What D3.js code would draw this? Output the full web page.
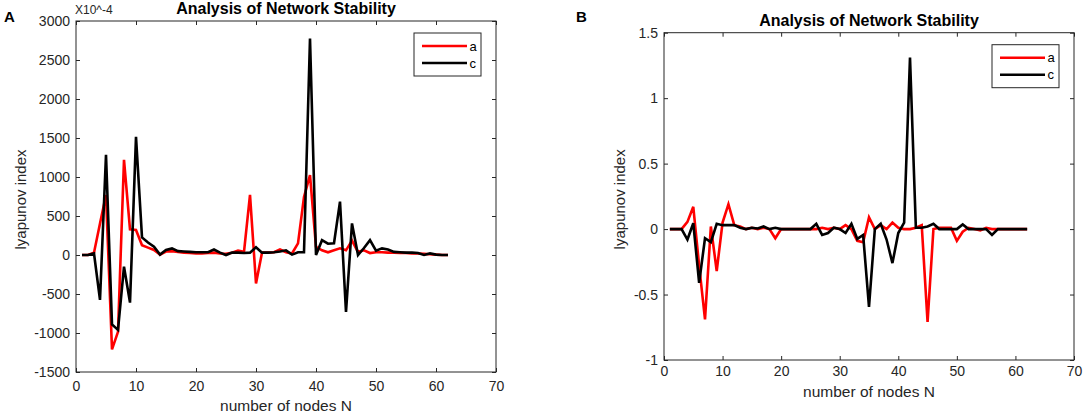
<!DOCTYPE html>
<html>
<head>
<meta charset="utf-8">
<script src="https://cdn.jsdelivr.net/npm/d3@7"></script>
<style>
  body { margin: 0; background: #fff; }
  svg { display: block; font-family: "Liberation Sans", Arial, sans-serif; }
</style>
</head>
<body>
<svg id="chart" width="1084" height="416"></svg>
<script>
// number of nodes N
const nodes = [1,2,3,4,5,6,7,8,9,10,11,12,13,14,15,16,17,18,19,20,
  21,22,23,24,25,26,27,28,29,30,31,32,33,34,35,36,37,38,39,40,
  41,42,43,44,45,46,47,48,49,50,51,52,53,54,55,56,57,58,59,60,61,62];

// panel A, values in units of 10^-4
const aA = [0,0,30,405,770,-1210,-985,1220,330,320,125,95,65,5,45,50,40,30,25,20,
  20,25,30,20,15,30,55,40,770,-365,30,30,35,70,35,20,150,745,1025,105,
  60,35,60,85,60,185,40,60,25,35,35,30,30,25,25,20,20,15,10,5,0,0];
const cA = [0,0,20,-575,1285,-890,-960,-150,-610,1515,225,160,105,5,65,85,50,45,40,35,
  35,35,70,30,0,30,30,25,30,100,30,30,35,45,60,5,35,35,2775,0,
  190,145,150,685,-730,405,0,90,190,55,85,70,40,35,30,30,25,0,20,5,0,0];

// panel B
const aB = [0,0,0,0.055,0.17,-0.28,-0.69,0.02,-0.32,0.05,0.19,0.03,0.02,0,0.01,0,0.01,0,-0.07,0,
  0,0,0,0,0,0,0.01,0,0.01,0,0.03,0,-0.09,-0.1,0.09,0,0.03,0,0.05,0.01,
  0,0,0.01,0.03,-0.71,0,0.01,0.01,0.01,-0.09,-0.02,0.01,0,-0.01,0.01,0,0,0,0,0,0,0];
const cB = [0,0,0,-0.08,0.045,-0.41,-0.07,-0.1,0.04,0.03,0.03,0.03,0.01,0,0.01,0.005,0.02,0,0.01,0,
  0,0,0,0,0,0.04,-0.045,-0.03,0.01,0,-0.03,0.04,-0.075,-0.045,-0.595,0,0.04,-0.08,-0.26,-0.03,
  0.05,1.31,0.01,0.01,0.02,0.04,0,0,0,0,0.035,0,0,0,0,-0.045,0,0,0,0,0,0];

const xTicks = [0,10,20,30,40,50,60,70];
const yTicksA = [-1500,-1000,-500,0,500,1000,1500,2000,2500,3000];
const yTicksB = [-1,-0.5,0,0.5,1,1.5];

const seriesNames = ["a", "c"];
const seriesColors = ["#ff0000", "#000000"];

const svg = d3.select("#chart");
const fontFam = "'Liberation Sans', Arial, sans-serif";

function styleAxis(a) {
  a.select(".domain").remove();
  a.attr("font-family", fontFam).attr("font-size", 14);
  a.selectAll(".tick line").attr("stroke", "#262626");
  a.selectAll(".tick text").attr("fill", "#262626");
}

function drawPanel(p) {
  const x = d3.scaleLinear().domain([0, 70]).range([p.left, p.right]);
  const y = d3.scaleLinear().domain(p.yDomain).range([p.bottom, p.top]);
  const g = svg.append("g");
  const fmt = d => String(d);

  g.append("g")
    .attr("transform", `translate(0,${p.bottom})`)
    .call(d3.axisBottom(x).tickValues(xTicks).tickFormat(fmt).tickSize(-4).tickSizeOuter(0).tickPadding(p.xPad))
    .call(styleAxis);
  g.append("g")
    .attr("transform", `translate(0,${p.top})`)
    .call(d3.axisTop(x).tickValues(xTicks).tickSize(-4).tickSizeOuter(0).tickFormat(""))
    .call(styleAxis);
  g.append("g")
    .attr("transform", `translate(${p.left},0)`)
    .call(d3.axisLeft(y).tickValues(p.yTicks).tickFormat(fmt).tickSize(-4).tickSizeOuter(0).tickPadding(6))
    .call(styleAxis);
  g.append("g")
    .attr("transform", `translate(${p.right},0)`)
    .call(d3.axisRight(y).tickValues(p.yTicks).tickSize(-4).tickSizeOuter(0).tickFormat(""))
    .call(styleAxis);

  g.append("rect")
    .attr("x", p.left).attr("y", p.top)
    .attr("width", p.right - p.left).attr("height", p.bottom - p.top)
    .attr("fill", "none").attr("stroke", "#262626").attr("stroke-width", 1);

  const line = d3.line()
    .x((d, i) => x(nodes[i]))
    .y(d => y(d));

  p.series.forEach((s, k) => {
    g.append("path")
      .datum(s)
      .attr("d", line)
      .attr("fill", "none")
      .attr("stroke", seriesColors[k])
      .attr("stroke-width", 2.6)
      .attr("stroke-linejoin", "miter")
      .attr("stroke-miterlimit", 4);
  });

  // title
  g.append("text")
    .attr("x", (p.left + p.right) / 2).attr("y", p.top - 7)
    .attr("text-anchor", "middle")
    .attr("font-weight", "bold").attr("font-size", 16)
    .attr("fill", "#000")
    .text("Analysis of Network Stability");

  // axis labels
  g.append("text")
    .attr("x", (p.left + p.right) / 2).attr("y", p.xLabelY)
    .attr("text-anchor", "middle").attr("font-size", 15.5)
    .attr("fill", "#262626")
    .text("number of nodes N");
  g.append("text")
    .attr("transform", `translate(${p.yLabelX},${(p.top + p.bottom) / 2 + 3}) rotate(-90)`)
    .attr("text-anchor", "middle").attr("font-size", 15)
    .attr("fill", "#262626")
    .text("lyapunov index");

  // panel letter
  svg.append("text")
    .attr("x", p.letterX).attr("y", 22)
    .attr("font-weight", "bold").attr("font-size", 15)
    .attr("fill", "#000")
    .text(p.letter);

  // legend
  const lw = 67, lh = 43;
  const lx = p.right - 15 - lw, ly = p.top + 12;
  const leg = g.append("g").attr("transform", `translate(${lx},${ly})`);
  leg.append("rect")
    .attr("width", lw).attr("height", lh)
    .attr("fill", "#fff").attr("stroke", "#262626").attr("stroke-width", 1);
  seriesNames.forEach((n, k) => {
    const yy = 13 + k * 17;
    leg.append("line")
      .attr("x1", 8).attr("x2", 53).attr("y1", yy).attr("y2", yy)
      .attr("stroke", seriesColors[k]).attr("stroke-width", 2.6);
    leg.append("text")
      .attr("x", 55.5).attr("y", yy + 4.5)
      .attr("font-size", 13).attr("fill", "#000")
      .text(n);
  });

  return g;
}

const gA = drawPanel({
  left: 76, right: 496, top: 21, bottom: 372,
  yDomain: [-1500, 3000], yTicks: yTicksA,
  series: [aA, cA], xPad: 9, xLabelY: 411, yLabelX: 26,
  letter: "A", letterX: 4
});
gA.append("text")
  .attr("x", 75).attr("y", 14)
  .attr("font-size", 12).attr("fill", "#262626")
  .text("X10^-4");

drawPanel({
  left: 664, right: 1074, top: 32.7, bottom: 360,
  yDomain: [-1, 1.5], yTicks: yTicksB,
  series: [aB, cB], xPad: 6, xLabelY: 397, yLabelX: 625,
  letter: "B", letterX: 576
});
</script>
</body>
</html>
